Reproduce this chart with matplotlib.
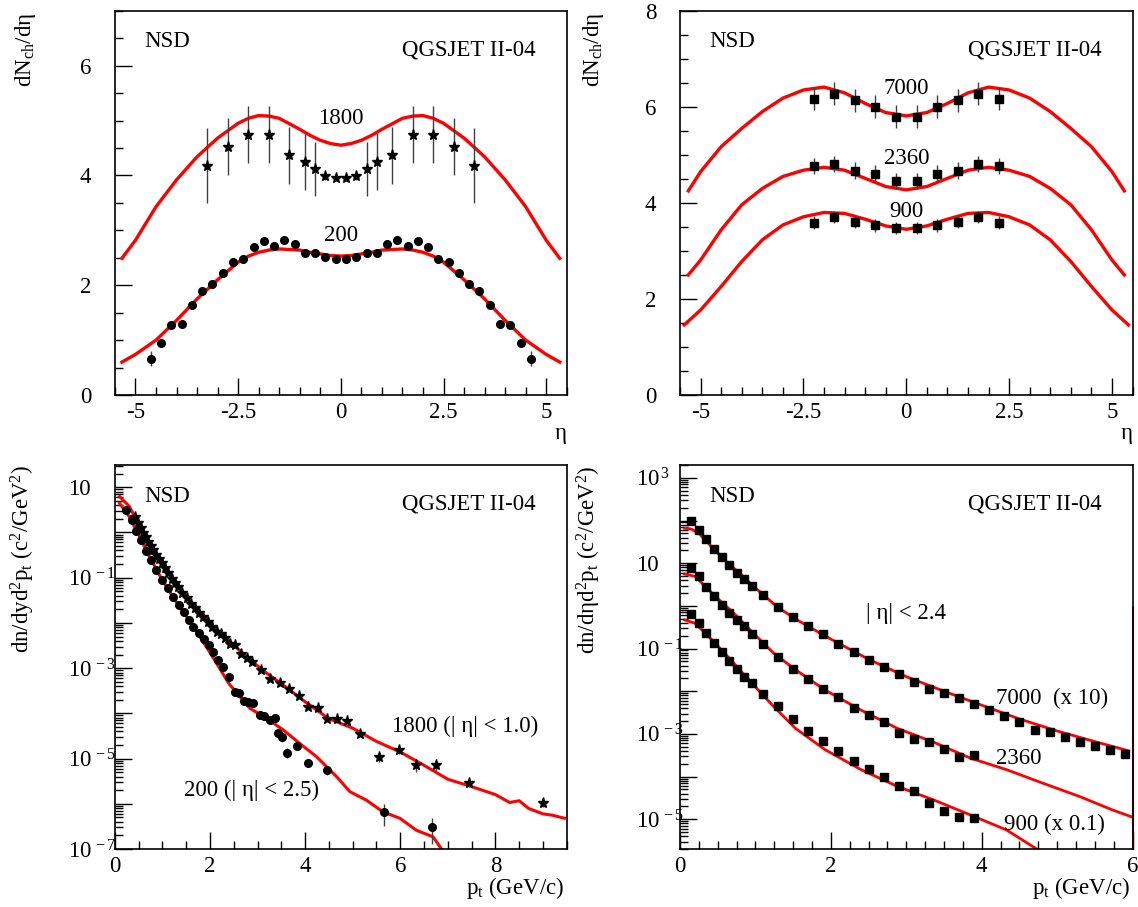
import numpy as np
import matplotlib
matplotlib.use('Agg')
import matplotlib.pyplot as plt
from matplotlib.ticker import MultipleLocator, FormatStrFormatter, LogLocator, FuncFormatter, NullFormatter

plt.rcParams['font.family'] = ['Liberation Serif', 'DejaVu Serif']
plt.rcParams['mathtext.fontset'] = 'custom'
plt.rcParams['mathtext.rm'] = 'Liberation Serif'
plt.rcParams['mathtext.it'] = 'Liberation Serif:italic'
plt.rcParams['axes.unicode_minus'] = False

# ---------------- top left: dN/deta, 200 and 1800 GeV
eta_tl = [-5.33, -5, -4.5, -4, -3.5, -3, -2.5, -2.25, -2, -1.75, -1.5, -1, -0.75, -0.5, -0.25, 0,
          0.25, 0.5, 0.75, 1, 1.5, 1.75, 2, 2.25, 2.5, 3, 3.5, 4, 4.5, 5, 5.33]
qgs_1800 = [2.49, 2.82, 3.43, 3.92, 4.34, 4.68, 4.95, 5.04, 5.09, 5.08, 5.04, 4.84, 4.73, 4.64, 4.58, 4.55,
            4.58, 4.64, 4.73, 4.84, 5.04, 5.08, 5.09, 5.04, 4.95, 4.68, 4.34, 3.92, 3.43, 2.82, 2.49]
qgs_200 = [0.60, 0.74, 1.00, 1.36, 1.75, 2.10, 2.42, 2.53, 2.60, 2.64, 2.66, 2.64, 2.60, 2.57, 2.54, 2.53,
           2.54, 2.57, 2.60, 2.64, 2.66, 2.64, 2.60, 2.53, 2.42, 2.10, 1.75, 1.36, 1.00, 0.74, 0.60]

eta_cdf = [-3.25, -2.75, -2.25, -1.75, -1.25, -0.875, -0.625, -0.375, -0.125,
           0.125, 0.375, 0.625, 0.875, 1.25, 1.75, 2.25, 2.75, 3.25]
cdf_1800 = [4.18, 4.52, 4.74, 4.74, 4.37, 4.25, 4.11, 3.99, 3.96,
            3.96, 3.99, 4.11, 4.25, 4.37, 4.74, 4.74, 4.52, 4.18]
cdf_1800_err = [0.68, 0.52, 0.52, 0.52, 0.52, 0.52, 0.49, 0.08, 0.07,
                0.07, 0.08, 0.49, 0.52, 0.52, 0.52, 0.52, 0.52, 0.68]

eta_ua5 = [-4.625, -4.375, -4.125, -3.875, -3.625, -3.375, -3.125, -2.875, -2.625, -2.375,
           -2.125, -1.875, -1.625, -1.375, -1.125, -0.875, -0.625, -0.375, -0.125,
           0.125, 0.375, 0.625, 0.875, 1.125, 1.375, 1.625, 1.875, 2.125,
           2.375, 2.625, 2.875, 3.125, 3.375, 3.625, 3.875, 4.125, 4.375, 4.625]
ua5_200 = [0.66, 0.94, 1.28, 1.29, 1.64, 1.89, 2.02, 2.22, 2.43, 2.48,
           2.70, 2.81, 2.71, 2.82, 2.75, 2.59, 2.58, 2.52, 2.48,
           2.48, 2.52, 2.58, 2.59, 2.75, 2.82, 2.71, 2.81, 2.70,
           2.48, 2.43, 2.22, 2.02, 1.89, 1.64, 1.29, 1.28, 0.94, 0.66]
ua5_200_err = [0.14] + [0.03] * 36 + [0.14]

# ---------------- top right: dN/deta, 900, 2360, 7000 GeV
eta_tr = [-5.3, -5, -4.5, -4, -3.5, -3, -2.5, -2, -1.5, -1, -0.5, 0,
          0.5, 1, 1.5, 2, 2.5, 3, 3.5, 4, 4.5, 5, 5.3]
qgs_7000 = [4.25, 4.65, 5.17, 5.55, 5.90, 6.18, 6.35, 6.41, 6.29, 6.07, 5.88, 5.81,
            5.88, 6.07, 6.29, 6.41, 6.35, 6.18, 5.90, 5.55, 5.17, 4.65, 4.25]
qgs_2360 = [2.50, 2.81, 3.44, 3.96, 4.30, 4.55, 4.68, 4.74, 4.68, 4.51, 4.34, 4.27,
            4.34, 4.51, 4.68, 4.74, 4.68, 4.55, 4.30, 3.96, 3.44, 2.81, 2.50]
eta_tr900 = [-5.4, -5, -4.5, -4, -3.5, -3, -2.5, -2, -1.5, -1, -0.5, 0,
             0.5, 1, 1.5, 2, 2.5, 3, 3.5, 4, 4.5, 5, 5.4]
qgs_900 = [1.46, 1.77, 2.26, 2.78, 3.23, 3.54, 3.71, 3.80, 3.78, 3.66, 3.52, 3.45,
           3.52, 3.66, 3.78, 3.80, 3.71, 3.54, 3.23, 2.78, 2.26, 1.77, 1.46]

eta_cms = [-2.25, -1.75, -1.25, -0.75, -0.25, 0.25, 0.75, 1.25, 1.75, 2.25]
cms_7000 = [6.17, 6.27, 6.14, 6.00, 5.79, 5.79, 6.00, 6.14, 6.27, 6.17]
cms_2360 = [4.77, 4.81, 4.67, 4.61, 4.46, 4.46, 4.61, 4.67, 4.81, 4.77]
cms_900 = [3.59, 3.71, 3.61, 3.53, 3.48, 3.48, 3.53, 3.61, 3.71, 3.59]
cms_err = {'7000': 0.24, '2360': 0.17, '900': 0.13}

# ---------------- bottom left: pt spectra, 200 and 1800 GeV
pt_cdf = [0.42, 0.49, 0.54, 0.60, 0.65, 0.70, 0.75, 0.81, 0.86, 0.92, 0.98, 1.05, 1.12,
          1.19, 1.26, 1.33, 1.42, 1.51, 1.59, 1.68, 1.77, 1.86, 1.96, 2.05, 2.14, 2.22,
          2.31, 2.42, 2.52, 2.66, 2.77, 2.89, 3.08, 3.27, 3.47, 3.66, 3.87, 4.07, 4.27,
          4.46, 4.66, 4.87, 5.15, 5.55, 5.97, 6.34, 6.76, 7.44, 9.00]
cdf_pt = [2.17, 1.60, 1.24, 0.96, 0.78, 0.63, 0.49, 0.40, 0.32, 0.255, 0.208, 0.161, 0.125,
          0.094, 0.075, 0.061, 0.045, 0.035, 0.026, 0.021, 0.0163, 0.0133, 0.0107, 8.3e-3,
          6.4e-3, 5.7e-3, 4.6e-3, 3.5e-3, 3.2e-3, 2.1e-3, 1.64e-3, 1.39e-3, 9.3e-4, 5.9e-4,
          4.6e-4, 3.4e-4, 2.4e-4, 1.35e-4, 1.29e-4, 7.4e-5, 7.4e-5, 6.8e-5, 3.5e-5, 1.10e-5,
          1.58e-5, 7.2e-6, 7.2e-6, 2.95e-6, 1.05e-6]
cdf_pt_err = [0] * 43 + [2.5e-6, 3.0e-6, 2.2e-6, 1.8e-6, 0.6e-6, 0.2e-6]

pt_ua5 = [0.23, 0.35, 0.44, 0.54, 0.65, 0.75, 0.87, 1.00, 1.11, 1.23, 1.34, 1.46, 1.56,
          1.65, 1.77, 1.87, 1.97, 2.07, 2.17, 2.28, 2.40, 2.52, 2.61, 2.71, 2.80, 2.91,
          3.05, 3.13, 3.27, 3.36, 3.43, 3.52, 3.62, 3.83, 4.07, 4.46, 5.66, 6.66]
ua5_pt = [3.16, 1.91, 1.07, 0.68, 0.38, 0.245, 0.148, 0.089, 0.059, 0.038, 0.025, 0.017,
          0.0115, 8.3e-3, 5.9e-3, 4.4e-3, 3.2e-3, 2.3e-3, 1.5e-3, 1.07e-3, 6.3e-4, 2.9e-4,
          2.75e-4, 1.86e-4, 1.82e-4, 1.66e-4, 9.3e-5, 8.9e-5, 7.1e-5, 7.8e-5, 3.6e-5,
          2.95e-5, 1.35e-5, 1.9e-5, 8.1e-6, 5.6e-6, 6.5e-7, 3.1e-7]
ua5_pt_err = [0] * 30 + [0.6e-5, 0.6e-5, 0.33e-5, 0, 1.5e-6, 1.2e-6, 3.3e-7, 1.8e-7]

pt_qgs1800 = [0.1, 0.3, 0.5, 0.7, 1.0, 1.3, 1.6, 2.0, 2.4, 2.8, 3.2, 3.6, 4.0, 4.5, 5.0,
              5.5, 6.0, 6.5, 7.0, 7.5, 8.0, 8.3, 8.5, 8.7, 9.0, 9.2, 9.45]
qgs_pt1800 = [6.2, 3.8, 1.55, 0.63, 0.2, 0.076, 0.028, 0.01, 4.0e-3, 1.66e-3, 7.6e-4,
              3.8e-4, 1.8e-4, 7.6e-5, 4.7e-5, 2.4e-5, 1.4e-5, 7.1e-6, 3.5e-6, 2.4e-6,
              1.6e-6, 1.07e-6, 1.17e-6, 7.9e-7, 6.0e-7, 5.6e-7, 4.8e-7]
pt_qgs200 = [0.1, 0.3, 0.5, 0.7, 1.0, 1.3, 1.6, 2.0, 2.4, 2.84, 3.2, 3.54, 3.9, 4.24,
             4.66, 4.94, 5.29, 5.64, 5.99, 6.34, 6.69, 6.9]
qgs_pt200 = [4.4, 2.24, 0.89, 0.33, 0.087, 0.028, 0.01, 2.2e-3, 4.5e-4, 1.29e-4, 7.6e-5,
             4.3e-5, 2.1e-5, 1.1e-5, 4.0e-6, 1.86e-6, 1.2e-6, 6.6e-7, 4.8e-7, 2.6e-7,
             1.86e-7, 8.9e-8]

# ---------------- bottom right: pt spectra, 900 (x0.1), 2360, 7000 (x10)
pt_cms = [0.15, 0.25, 0.35, 0.45, 0.55, 0.65, 0.75, 0.85, 0.95, 1.1, 1.3, 1.5, 1.7, 1.9,
          2.1, 2.3, 2.5, 2.7, 2.9, 3.1, 3.3, 3.5, 3.7, 3.9]
pt_cms7000 = pt_cms + [4.1, 4.3, 4.5, 4.7, 4.9, 5.1, 5.3, 5.5, 5.7, 5.9]
cms_pt7000 = [97.7, 60.3, 37.2, 21.9, 13.8, 9.1, 6.0, 4.27, 2.95, 1.78, 0.955, 0.562,
              0.331, 0.219, 0.126, 0.083, 0.054, 0.037, 0.0257, 0.0166, 0.0115, 9.1e-3,
              6.9e-3, 5.0e-3, 3.7e-3, 2.6e-3, 1.86e-3, 1.23e-3, 1.12e-3, 8.5e-4, 6.5e-4,
              5.2e-4, 4.2e-4, 3.3e-4]
cms_pt2360 = [7.9, 4.9, 2.8, 1.66, 1.05, 0.69, 0.46, 0.33, 0.22, 0.126, 0.063, 0.033,
              0.019, 0.0115, 7.4e-3, 4.0e-3, 2.8e-3, 1.86e-3, 1.07e-3, 7.4e-4, 6.3e-4,
              4.4e-4, 2.8e-4, 3.2e-4]
cms_pt900 = [0.64, 0.39, 0.237, 0.138, 0.0836, 0.0524, 0.0333, 0.0221, 0.0154, 8.5e-3,
             4.4e-3, 2.2e-3, 1.17e-3, 6.9e-4, 4.0e-4, 2.37e-4, 1.51e-4, 1.0e-4, 5.9e-5,
             4.5e-5, 2.45e-5, 1.58e-5, 1.15e-5, 1.05e-5]

pt_qgs7000 = [0.06, 0.15, 0.25, 0.4, 0.6, 0.8, 1.0, 1.3, 1.6, 2.0, 2.5, 3.0, 3.5, 4.0,
              4.5, 5.0, 5.5, 5.95]
qgs_pt7000 = [66, 63, 50, 26.3, 11.5, 5.6, 2.63, 0.91, 0.417, 0.166, 0.056, 0.0219,
              0.01, 4.7e-3, 2.24e-3, 1.17e-3, 6.6e-4, 4.0e-4]
pt_qgs2360 = [0.06, 0.2, 0.47, 0.71, 0.95, 1.24, 1.53, 1.92, 2.40, 2.88, 3.37, 3.85,
              4.33, 4.82, 5.30, 5.73, 5.98]
qgs_pt2360 = [5.6, 4.9, 1.66, 0.68, 0.25, 0.078, 0.032, 0.0107, 3.6e-3, 1.35e-3, 6.3e-4,
              2.7e-4, 1.45e-4, 6.9e-5, 3.4e-5, 1.66e-5, 1.15e-5]
pt_qgs900 = [0.06, 0.2, 0.47, 0.71, 0.95, 1.24, 1.53, 1.92, 2.40, 2.88, 3.37, 3.85,
             4.33, 4.75]
qgs_pt900 = [0.47, 0.39, 0.132, 0.046, 0.0155, 4.4e-3, 1.35e-3, 4.3e-4, 1.45e-4, 5.9e-5,
             2.8e-5, 1.26e-5, 5.6e-6, 1.9e-6]

RED = '#ff0000'
FS = 16.5

fig = plt.figure(figsize=(11.38, 9.07), dpi=100)
ax1 = fig.add_axes([0.101, 0.5645, 0.397, 0.4237])
ax2 = fig.add_axes([0.5976, 0.5645, 0.3976, 0.4237])
ax3 = fig.add_axes([0.101, 0.0639, 0.397, 0.4234])
ax4 = fig.add_axes([0.5976, 0.0639, 0.3976, 0.4234])


def frame(ax):
    ax.tick_params(which='both', direction='in', top=False, right=False, labelsize=FS)
    ax.tick_params(which='major', length=12, width=1)
    ax.tick_params(which='minor', length=6, width=1)
    ax.tick_params(axis='x', pad=5)
    ax.tick_params(axis='y', pad=17)
    for s in ax.spines.values():
        s.set_linewidth(1.2)
    ax.text(0.065, 0.919, 'NSD', transform=ax.transAxes, fontsize=FS, va='center')
    ax.text(0.932, 0.898, 'QGSJET II-04', transform=ax.transAxes, fontsize=FS,
            va='center', ha='right')


def log_label(v, pos):
    e = int(round(np.log10(v)))
    if e % 2 == 0:
        return ''
    if e == 1:
        return '10'
    return r'$\mathregular{10^{\,%d}}$' % e


def log_axis(ax):
    ax.set_yscale('log')
    ax.yaxis.set_major_locator(LogLocator(base=10, subs=(1.0,), numticks=30))
    ax.yaxis.set_minor_locator(LogLocator(base=10, subs=np.arange(2, 10), numticks=30))
    ax.yaxis.set_major_formatter(FuncFormatter(log_label))
    ax.yaxis.set_minor_formatter(NullFormatter())


ebar = dict(ls='none', ecolor='0.25', elinewidth=1, capsize=0)

# ---- panel 1
frame(ax1)
ax1.plot(eta_tl, qgs_1800, color=RED, lw=2.4)
ax1.plot(eta_tl, qgs_200, color=RED, lw=2.4)
ax1.errorbar(eta_cdf, cdf_1800, yerr=cdf_1800_err, fmt='*', color='k', ms=8, **ebar)
ax1.errorbar(eta_ua5, ua5_200, yerr=ua5_200_err, fmt='o', color='k', ms=5.5, **ebar)
ax1.text(0, 5.04, '1800', ha='center', va='center', fontsize=FS)
ax1.text(0, 2.91, '200', ha='center', va='center', fontsize=FS)
ax1.set_xlim(-5.5, 5.5)
ax1.set_ylim(0, 7)
ax1.xaxis.set_major_locator(MultipleLocator(2.5))
ax1.xaxis.set_minor_locator(MultipleLocator(0.5))
ax1.xaxis.set_major_formatter(FormatStrFormatter('%g'))
ax1.yaxis.set_major_locator(MultipleLocator(2))
ax1.yaxis.set_minor_locator(MultipleLocator(0.5))
ax1.set_ylabel(r'dN$_{\mathregular{ch}}$/dη', loc='top', fontsize=FS)
ax1.yaxis.set_label_coords(-0.170, 0.995)
ax1.set_xlabel('η', loc='right', fontsize=FS)
ax1.xaxis.set_label_coords(1.0, -0.072)

# ---- panel 2
frame(ax2)
ax2.plot(eta_tr, qgs_7000, color=RED, lw=2.4)
ax2.plot(eta_tr, qgs_2360, color=RED, lw=2.4)
ax2.plot(eta_tr900, qgs_900, color=RED, lw=2.4)
ax2.errorbar(eta_cms, cms_7000, yerr=cms_err['7000'], fmt='s', color='k', ms=5.5, **ebar)
ax2.errorbar(eta_cms, cms_2360, yerr=cms_err['2360'], fmt='s', color='k', ms=5.5, **ebar)
ax2.errorbar(eta_cms, cms_900, yerr=cms_err['900'], fmt='s', color='k', ms=5.5, **ebar)
ax2.text(0, 6.38, '7000', ha='center', va='center', fontsize=FS)
ax2.text(0, 4.93, '2360', ha='center', va='center', fontsize=FS)
ax2.text(0, 3.83, '900', ha='center', va='center', fontsize=FS)
ax2.set_xlim(-5.5, 5.5)
ax2.set_ylim(0, 8)
ax2.xaxis.set_major_locator(MultipleLocator(2.5))
ax2.xaxis.set_minor_locator(MultipleLocator(0.5))
ax2.xaxis.set_major_formatter(FormatStrFormatter('%g'))
ax2.yaxis.set_major_locator(MultipleLocator(2))
ax2.yaxis.set_minor_locator(MultipleLocator(0.5))
ax2.set_ylabel(r'dN$_{\mathregular{ch}}$/dη', loc='top', fontsize=FS)
ax2.yaxis.set_label_coords(-0.164, 0.995)
ax2.set_xlabel('η', loc='right', fontsize=FS)
ax2.xaxis.set_label_coords(1.0, -0.072)

# ---- panel 3
frame(ax3)
log_axis(ax3)
ax3.plot(pt_qgs1800, qgs_pt1800, color=RED, lw=2.2)
ax3.plot(pt_qgs200, qgs_pt200, color=RED, lw=2.2)
ax3.errorbar(pt_ua5, ua5_pt, yerr=ua5_pt_err, fmt='o', color='k', ms=5.5, **ebar)
ax3.errorbar(pt_cdf, cdf_pt, yerr=cdf_pt_err, fmt='*', color='k', ms=8, **ebar)
ax3.text(5.83, 5.1e-5, '1800 (| η| < 1.0)', va='center', fontsize=FS)
ax3.text(1.46, 2.0e-6, '200 (| η| < 2.5)', va='center', fontsize=FS)
ax3.set_xlim(0, 9.5)
ax3.set_ylim(1e-7, 31)
ax3.xaxis.set_major_locator(MultipleLocator(2))
ax3.xaxis.set_minor_locator(MultipleLocator(0.5))
ax3.xaxis.set_major_formatter(FormatStrFormatter('%g'))
ax3.tick_params(axis='y', pad=34)
ax3.set_ylabel(r'dn/dyd$^{\mathregular{2}}$p$_{\mathregular{t}}$ (c$^{\mathregular{2}}$/GeV$^{\mathregular{2}}$)',
               loc='top', fontsize=FS)
ax3.yaxis.set_label_coords(-0.173, 1.0)
ax3.set_xlabel(r'p$_{\mathregular{t}}$ (GeV/c)', loc='right', fontsize=FS)
ax3.xaxis.set_label_coords(0.995, -0.068)

# ---- panel 4
frame(ax4)
log_axis(ax4)
ax4.plot(pt_qgs7000, qgs_pt7000, color=RED, lw=2.0)
ax4.plot(pt_qgs2360, qgs_pt2360, color=RED, lw=2.0)
ax4.plot(pt_qgs900, qgs_pt900, color=RED, lw=2.0)
ax4.plot(pt_cms7000, cms_pt7000, 's', color='k', ms=5.5)
ax4.plot(pt_cms, cms_pt2360, 's', color='k', ms=5.5)
ax4.plot(pt_cms, cms_pt900, 's', color='k', ms=5.5)
ax4.text(2.47, 0.68, '| η| < 2.4', va='center', fontsize=FS)
ax4.text(4.19, 6.9e-3, '7000  (x 10)', va='center', fontsize=FS)
ax4.text(4.19, 2.7e-4, '2360', va='center', fontsize=FS)
ax4.text(4.29, 7.4e-6, '900 (x 0.1)', va='center', fontsize=FS)
pt_max = 6
ax4.set_xlim(0, pt_max)
ax4.set_ylim(2e-6, 2000)
ax4.axvline(pt_max, ymin=0, ymax=0.63, color=RED, lw=1.5, clip_on=False)
ax4.xaxis.set_major_locator(MultipleLocator(2))
ax4.xaxis.set_minor_locator(MultipleLocator(0.25))
ax4.xaxis.set_major_formatter(FormatStrFormatter('%g'))
ax4.tick_params(axis='y', pad=32)
ax4.set_ylabel(r'dn/dηd$^{\mathregular{2}}$p$_{\mathregular{t}}$ (c$^{\mathregular{2}}$/GeV$^{\mathregular{2}}$)',
               loc='top', fontsize=FS)
ax4.yaxis.set_label_coords(-0.170, 1.0)
ax4.set_xlabel(r'p$_{\mathregular{t}}$ (GeV/c)', loc='right', fontsize=FS)
ax4.xaxis.set_label_coords(0.995, -0.068)

for ax in (ax3, ax4):
    plt.setp(ax.get_yticklabels(), ha='left')

fig.savefig('out.png', dpi=100)
